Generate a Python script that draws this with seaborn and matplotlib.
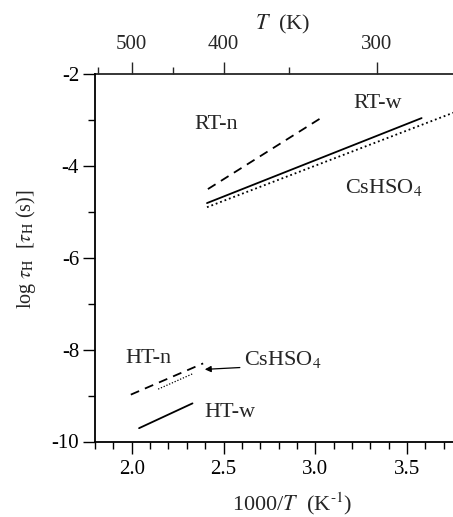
import matplotlib
matplotlib.use("Agg")
import matplotlib.pyplot as plt
import seaborn as sns
import numpy as np

# ---- data ----
rtn_x = [2.415, 3.038]
rtn_y = [-4.505, -2.94]
rtw_x = [2.41, 3.579]
rtw_y = [-4.81, -2.96]
cs_rt_x = [2.41, 3.76]
cs_rt_y = [-4.90, -2.83]
htn_x = [1.995, 2.389]
htn_y = [-8.98, -8.30]
cs_ht_x = [2.144, 2.335]
cs_ht_y = [-8.86, -8.52]
htw_x = [2.04, 2.331]
htw_y = [-9.71, -9.17]

x_ticks = [2.0, 2.5, 3.0, 3.5]
y_ticks = [-10, -8, -6, -4, -2]
top_ticks = [500, 400, 300]
top_minor = [550, 450, 350]

sns.set_theme(style="ticks")
plt.rcParams['font.family'] = ['Liberation Serif', 'DejaVu Serif']
plt.rcParams['mathtext.fontset'] = 'stix'
plt.rcParams['axes.unicode_minus'] = False

fig = plt.figure(figsize=(4.53, 5.17), dpi=100)
ax = fig.add_axes([95/453, 1 - 441.5/517, 1 - 95/453, (441.5 - 74)/517])

k = dict(ax=ax, color='black', lw=1.3)
sns.lineplot(x=rtn_x, y=rtn_y, **k).lines[-1].set_dashes([5, 3.5])
sns.lineplot(x=rtw_x, y=rtw_y, **k)
l = sns.lineplot(x=cs_rt_x, y=cs_rt_y, **k).lines[-1]
l.set_dashes([1.0, 1.6])
l = sns.lineplot(x=htn_x, y=htn_y, **k).lines[-1]
l.set_dashes([5, 3.5])
l = sns.lineplot(x=cs_ht_x, y=cs_ht_y, color='black', lw=0.9, ax=ax).lines[-1]
l.set_dashes([1.0, 1.4])
sns.lineplot(x=htw_x, y=htw_y, **k)

ax.set_xlim(1.8, 3.75)
ax.set_ylim(-10, -2)
ax.set_xticks(x_ticks)
ax.set_xticklabels([f"{v:.1f}" for v in x_ticks])
ax.set_xticks(np.arange(1.8, 3.76, 0.1), minor=True)
ax.set_yticks(y_ticks)
ax.set_yticklabels([str(v) for v in y_ticks])
ax.set_yticks([-9, -7, -5, -3], minor=True)

for s in ['left', 'bottom', 'top']:
    ax.spines[s].set_linewidth(1.3)
    ax.spines[s].set_color('black')
ax.spines['right'].set_visible(False)
ax.spines['top'].set_visible(False)

tfs = 15
ax.tick_params(which='major', direction='out', length=8.5, width=1.0, labelsize=tfs, colors='black', pad=5)
ax.tick_params(which='minor', direction='out', length=5, width=1.0, colors='black')
ax.tick_params(axis='y', pad=3)

sec = ax.secondary_xaxis('top', functions=(lambda x: 1000 / np.asarray(x, float), lambda t: 1000 / np.asarray(t, float)))
sec.set_xticks(top_ticks)
sec.set_xticklabels([str(v) for v in top_ticks])
sec.set_xticks(top_minor, minor=True)
sec.spines['top'].set_linewidth(1.3)
sec.tick_params(which='major', direction='out', length=8.5, width=1.0, labelsize=tfs, pad=6)
sec.tick_params(which='minor', direction='out', length=5, width=1.0)
sec.set_xlabel(r"$T$  (K)", fontsize=16, labelpad=4)
sec.xaxis.label.set_x((283 - 95) / 358)

ax.set_xlabel(r"1000/$T$  (K$^{\text{-1}}$)", fontsize=16)
ax.xaxis.set_label_coords((292 - 95) / 358, -0.133)
ax.set_ylabel(r"log $\tau_{\rm H}$  [$\tau_{\rm H}$ (s)]", fontsize=14.5)
ax.yaxis.set_label_coords(-0.16, 0.524)

fs = 16
ax.text(2.344, -3.11, "RT-n", fontsize=fs, va='center', ha='left')
ax.text(3.206, -2.65, "RT-w", fontsize=fs, va='center', ha='left')
ax.text(3.162, -4.59, r"CsHSO$_4$", fontsize=fs, va='baseline', ha='left')
ax.text(1.967, -8.30, "HT-n", fontsize=fs, va='baseline', ha='left')
ax.text(2.611, -8.34, r"CsHSO$_4$", fontsize=fs, va='baseline', ha='left')
ax.text(2.398, -9.47, "HT-w", fontsize=fs, va='baseline', ha='left')
ax.annotate("", xy=(2.398, -8.43), xytext=(2.589, -8.39),
            arrowprops=dict(arrowstyle='-|>', color='black', lw=0.9,
                            mutation_scale=9, shrinkA=0, shrinkB=0))

fig.savefig("out.png", dpi=100)
